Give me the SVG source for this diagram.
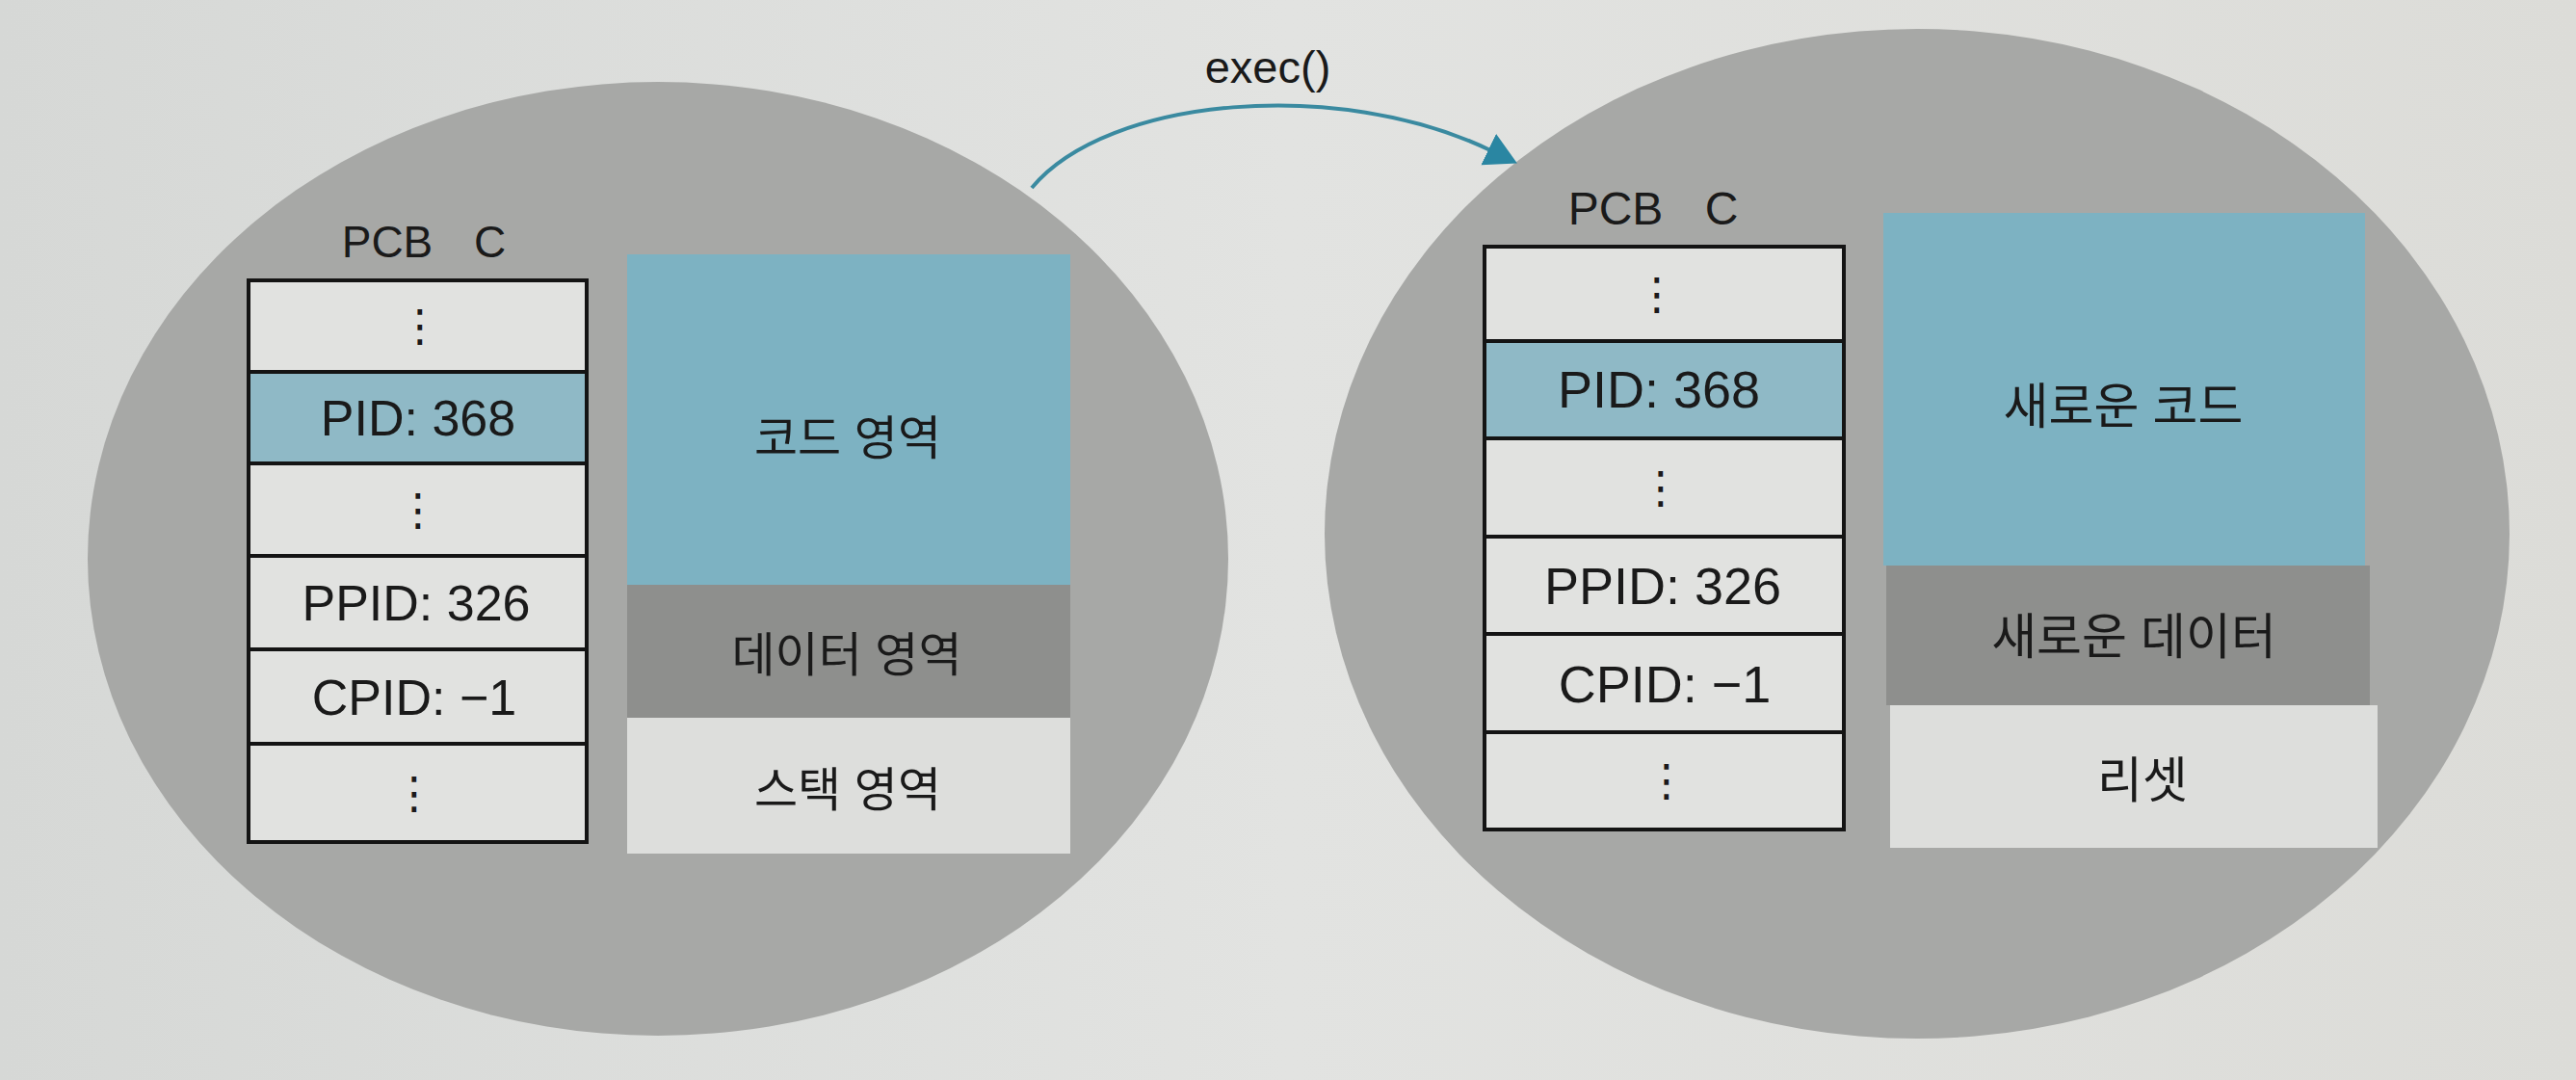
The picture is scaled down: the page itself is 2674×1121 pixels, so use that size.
<svg xmlns="http://www.w3.org/2000/svg" width="2674" height="1121" viewBox="0 0 2674 1121">
<style>
.proc{fill:#a7a8a6}
.cell{fill:#e1e2e0;stroke:#141414;stroke-width:4}
.pid{fill:#8fb9c6;stroke:#141414;stroke-width:4}
.code{fill:#7db2c2}
.data{fill:#8e8f8d}
.stack{fill:#dddedc}
.lat{font-family:"Liberation Sans","Noto Sans",Arial,sans-serif;fill:#1a1a1a;text-anchor:middle}
.kr{font-family:"Liberation Sans","Noto Sans CJK KR",sans-serif;fill:#1a1a1a;text-anchor:middle;dominant-baseline:central}
.dots{font-family:"DejaVu Sans",sans-serif;fill:#1a1a1a;text-anchor:middle;dominant-baseline:central;font-size:46px}
.conn{fill:none;stroke:#3a8aa0;stroke-width:4}
</style>
<defs>
<linearGradient id="pg" x1="0" y1="0" x2="1" y2="0">
<stop offset="0" stop-color="#d6d8d6"/>
<stop offset="0.5" stop-color="#e2e3e1"/>
<stop offset="1" stop-color="#dcdcd8"/>
</linearGradient>
<marker id="ah" markerUnits="userSpaceOnUse" markerWidth="36" markerHeight="38" refX="2" refY="18" orient="auto">
<path d="M0,0 L33,18 L0,36 Z" fill="#2a86a2"/>
</marker>
</defs>
<rect x="0" y="0" width="2674" height="1121" fill="url(#pg)"/>

<g id="process-before">
<ellipse class="proc" cx="683" cy="580" rx="592" ry="495"/>
<text class="lat" x="440" y="267" font-size="46" word-spacing="30">PCB C</text>
<g id="pcb-before">
<rect class="cell" x="258" y="291" width="351" height="95"/>
<rect class="pid" x="258" y="386" width="351" height="95"/>
<rect class="cell" x="258" y="481" width="351" height="96"/>
<rect class="cell" x="258" y="577" width="351" height="97"/>
<rect class="cell" x="258" y="674" width="351" height="98"/>
<rect class="cell" x="258" y="772" width="351" height="102"/>
<text class="dots" x="436" y="338">⋮</text>
<text class="lat" x="434" y="452" font-size="52">PID: 368</text>
<text class="dots" x="434" y="529">⋮</text>
<text class="lat" x="432" y="644" font-size="52">PPID: 326</text>
<text class="lat" x="430" y="742" font-size="52">CPID: −1</text>
<text class="dots" x="430" y="823">⋮</text>
</g>
<g id="memory-before">
<rect class="code" x="651" y="264" width="460" height="343"/>
<rect class="data" x="651" y="607" width="460" height="138"/>
<rect class="stack" x="651" y="745" width="460" height="141"/>
<text class="kr" x="880" y="455" font-size="49">코드 영역</text>
<text class="kr" x="879" y="680" font-size="49">데이터 영역</text>
<text class="kr" x="880" y="820" font-size="49">스택 영역</text>
</g>
</g>

<g id="process-after">
<ellipse class="proc" cx="1990" cy="554" rx="615" ry="524"/>
<text class="lat" x="1716" y="233" font-size="48" word-spacing="30">PCB C</text>
<g id="pcb-after">
<rect class="cell" x="1541" y="256" width="373" height="98"/>
<rect class="pid" x="1541" y="354" width="373" height="101"/>
<rect class="cell" x="1541" y="455" width="373" height="102"/>
<rect class="cell" x="1541" y="557" width="373" height="101"/>
<rect class="cell" x="1541" y="658" width="373" height="102"/>
<rect class="cell" x="1541" y="760" width="373" height="101"/>
<text class="dots" x="1720" y="305">⋮</text>
<text class="lat" x="1722" y="423" font-size="54">PID: 368</text>
<text class="dots" x="1724" y="506">⋮</text>
<text class="lat" x="1726" y="627" font-size="54">PPID: 326</text>
<text class="lat" x="1728" y="729" font-size="54">CPID: −1</text>
<text class="dots" x="1730" y="810">⋮</text>
</g>
<g id="memory-after">
<rect class="code" x="1955" y="221" width="500" height="366"/>
<rect class="data" x="1958" y="587" width="502" height="145"/>
<rect class="stack" x="1962" y="732" width="506" height="148"/>
<text class="kr" x="2204" y="422" font-size="51">새로운 코드</text>
<text class="kr" x="2215" y="661" font-size="51">새로운 데이터</text>
<text class="kr" x="2224" y="810" font-size="51">리셋</text>
</g>
</g>

<g id="connectors">
<path class="conn" d="M1071,195 C1150,100 1390,80 1547,156" marker-end="url(#ah)"/>
<text class="lat" x="1316" y="86" font-size="47">exec()</text>
</g>
</svg>
